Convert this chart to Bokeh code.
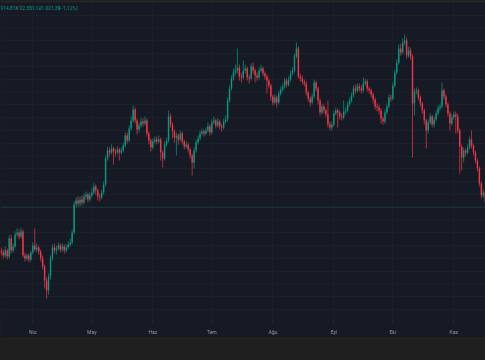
import numpy as np
from bokeh.plotting import figure
from bokeh.models import ColumnDataSource, Range1d, FixedTicker, Span, Label
from bokeh.embed import file_html
from bokeh.resources import INLINE

# ---- data (daily candles, 16 Mar -> 17 Nov) ----
month_labels = ["Nis", "May", "Haz", "Tem", "Ağu", "Eyl", "Eki", "Kas"]
month_start_days = [16, 46, 77, 107, 138, 169, 199, 230]   # day index of the 1st of each month

first_open = 150
closes = [148, 145, 150, 144, 162, 150, 154, 166, 168, 164,
          169, 145, 142, 145, 141, 148, 155, 151, 153, 149,
          142, 134, 120, 110, 124, 142, 153, 150, 152, 155,
          151, 154, 150, 153, 156, 158, 168, 196, 200, 197,
          201, 198, 204, 206, 201, 205, 208, 214, 210, 204,
          203, 208, 216, 242, 250, 248, 252, 249, 248, 251,
          248, 250, 255, 265, 260, 272, 280, 291, 280, 271,
          275, 279, 277, 280, 267, 260, 253, 259, 261, 259,
          261, 248, 242, 256, 260, 284, 276, 269, 263, 265,
          261, 267, 259, 254, 256, 251, 245, 238, 250, 258,
          262, 267, 269, 267, 270, 274, 268, 278, 280, 275,
          279, 274, 273, 279, 281, 300, 312, 322, 328, 330,
          333, 324, 323, 330, 332, 323, 322, 334, 330, 325,
          323, 330, 332, 327, 324, 320, 315, 304, 298, 303,
          298, 307, 311, 314, 320, 316, 321, 327, 330, 344,
          352, 324, 322, 319, 317, 308, 302, 298, 304, 318,
          312, 300, 288, 294, 290, 286, 276, 273, 276, 287,
          290, 288, 284, 283, 289, 290, 296, 300, 305, 312,
          310, 314, 312, 310, 317, 319, 312, 310, 306, 301,
          294, 293, 290, 282, 279, 288, 294, 303, 302, 315,
          328, 338, 352, 348, 358, 360, 345, 350, 344, 297,
          309, 310, 303, 297, 290, 280, 270, 278, 284, 276,
          281, 287, 292, 294, 310, 304, 296, 287, 277, 283,
          286, 284, 270, 254, 243, 250, 248, 253, 261, 255,
          248, 240, 232, 217, 205, 208, 199]
highs = [153, 151, 154, 152, 165, 166, 157, 169, 172, 171,
         173, 171, 148, 147, 147, 150, 158, 172, 157, 155,
         151, 145, 136, 123, 127, 145, 156, 157, 155, 158,
         157, 157, 156, 156, 159, 162, 171, 199, 203, 204,
         204, 205, 207, 209, 208, 208, 212, 218, 216, 212,
         207, 211, 219, 245, 254, 253, 256, 254, 252, 254,
         253, 253, 258, 268, 268, 275, 284, 295, 293, 282,
         278, 283, 282, 284, 282, 269, 262, 262, 264, 264,
         265, 263, 250, 259, 263, 290, 287, 278, 271, 268,
         267, 270, 269, 261, 259, 258, 253, 247, 253, 261,
         265, 270, 272, 271, 273, 278, 276, 281, 284, 282,
         282, 281, 277, 282, 285, 303, 315, 325, 332, 336,
         352, 336, 328, 340, 336, 334, 326, 337, 338, 332,
         328, 333, 336, 334, 329, 326, 322, 317, 306, 306,
         305, 310, 314, 317, 323, 322, 324, 330, 333, 347,
         358, 354, 327, 325, 321, 319, 310, 304, 307, 321,
         320, 314, 302, 297, 296, 292, 300, 279, 279, 290,
         293, 292, 290, 287, 300, 293, 299, 303, 308, 315,
         316, 317, 317, 315, 323, 322, 321, 314, 312, 308,
         303, 297, 296, 292, 284, 291, 297, 306, 306, 318,
         331, 341, 356, 357, 362, 366, 363, 354, 353, 346,
         312, 313, 312, 305, 299, 292, 282, 281, 287, 286,
         284, 290, 295, 297, 318, 312, 306, 298, 289, 286,
         289, 289, 287, 272, 256, 253, 252, 256, 264, 270,
         257, 250, 242, 234, 219, 211, 210]
lows = [145, 142, 143, 141, 142, 147, 148, 152, 164, 161,
        162, 143, 139, 140, 138, 139, 146, 149, 148, 146,
        139, 131, 112, 102, 106, 121, 140, 147, 146, 150,
        148, 149, 147, 148, 151, 154, 156, 166, 193, 194,
        194, 195, 196, 201, 198, 199, 203, 206, 206, 200,
        199, 201, 206, 214, 240, 244, 246, 236, 244, 246,
        240, 246, 248, 253, 257, 258, 270, 278, 277, 266,
        268, 273, 274, 275, 264, 256, 249, 251, 257, 256,
        257, 240, 233, 240, 254, 258, 273, 262, 258, 245,
        256, 259, 256, 251, 252, 248, 242, 225, 232, 248,
        256, 260, 265, 264, 265, 268, 265, 266, 276, 272,
        273, 271, 269, 271, 277, 279, 298, 310, 320, 325,
        327, 320, 318, 321, 327, 320, 317, 320, 327, 318,
        320, 321, 328, 324, 321, 307, 312, 300, 295, 296,
        293, 296, 305, 309, 312, 313, 314, 319, 325, 328,
        342, 322, 319, 316, 314, 305, 299, 294, 296, 302,
        309, 296, 285, 286, 287, 283, 273, 270, 270, 274,
        285, 273, 281, 280, 281, 286, 288, 294, 298, 303,
        307, 308, 309, 307, 308, 315, 309, 307, 303, 297,
        291, 289, 286, 277, 276, 277, 286, 292, 299, 300,
        313, 326, 336, 345, 346, 355, 342, 343, 341, 243,
        285, 306, 300, 294, 287, 276, 252, 267, 276, 273,
        273, 279, 285, 290, 292, 301, 293, 284, 270, 275,
        281, 267, 267, 227, 230, 238, 244, 246, 251, 252,
        245, 237, 229, 214, 202, 203, 196]

# ---- derived ----
days = np.arange(len(closes))
opens = [first_open] + closes[:-1]
up_color, down_color = "#089981", "#f23645"
colors = [up_color if c >= o else down_color for o, c in zip(opens, closes)]
src = ColumnDataSource(dict(
    day=days, open=opens, close=closes, high=highs, low=lows,
    top=[max(o, c) for o, c in zip(opens, closes)],
    bottom=[min(o, c) for o, c in zip(opens, closes)],
    color=colors,
))

BG = "#161a25"
GRID = "#1b1f2a"
x_start, x_end = -0.42, 246.1
y_lo, y_hi = 80, 400
days_per_px = (x_end - x_start) / 485.0

p = figure(frame_width=485, frame_height=320, output_backend="svg", toolbar_location=None,
           x_range=Range1d(x_start, x_end), y_range=Range1d(y_lo, y_hi),
           y_axis_location=None,
           background_fill_color=BG, border_fill_color=BG,
           min_border_left=0, min_border_right=0, min_border_top=0, min_border_bottom=17)
p.outline_line_color = None

ax = p.xaxis[0]
ax.ticker = FixedTicker(ticks=month_start_days)
ax.major_label_overrides = {d: l for d, l in zip(month_start_days, month_labels)}
ax.minor_tick_line_color = None
ax.axis_line_color = None
ax.major_tick_line_color = "#232733"
ax.major_tick_out = 3
ax.major_tick_in = 0
ax.major_label_standoff = 5
ax.major_label_text_font_size = "5px"
ax.major_label_text_font = "Roboto"
ax.major_label_text_color = "#9598a1"

p.xgrid.grid_line_color = GRID
p.ygrid.ticker = FixedTicker(ticks=list(np.arange(193.3 - 12.8 * 9, 400, 12.8)))
p.ygrid.grid_line_color = GRID

level_line = Span(location=193.3, dimension="width", line_color="#193a3b", line_width=1, level="underlay")
p.add_layout(level_line)
top_edge = Span(location=y_hi - 0.5, dimension="width", line_color="#3a3127", line_width=1)
p.add_layout(top_edge)

p.segment(x0="day", y0="low", x1="day", y1="high", line_color="color", line_width=1,
          line_alpha=0.7, source=src)
p.vbar(x="day", width=0.72, top="top", bottom="bottom", fill_color="color",
       line_color=None, source=src)

legend_parts = [("914,81", "#089981", 0), ("K", "#787b86", 15),
                ("92.551,12", "#089981", 19), ("−1.021,39", "#089981", 38),
                ("(−1,12%)", "#089981", 58)]
for txt, col, px in legend_parts:
    p.add_layout(Label(x=x_start + px * days_per_px, y=y_hi - 7, text=txt,
                       text_color=col, text_font_size="5px", text_font="Roboto",
                       text_baseline="middle", text_align="left"))

template = """{% block postamble %}<style>html, body { margin: 0; padding: 0; background: #1f1f1f; overflow: hidden; }</style>{% endblock %}"""
open("out.html", "w").write(file_html(p, INLINE, "chart", template=template))
